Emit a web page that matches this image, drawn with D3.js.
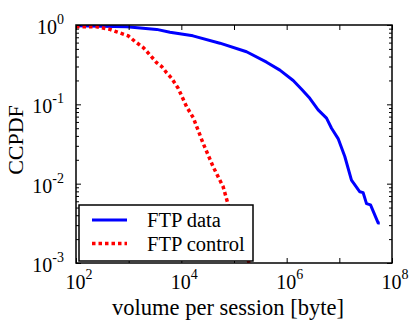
<!DOCTYPE html>
<html>
<head>
<meta charset="utf-8">
<script src="https://cdn.jsdelivr.net/npm/d3@7"></script>
<style>
  html, body { margin: 0; padding: 0; background: #fff; }
  svg { display: block; font-family: "Liberation Serif", "Times New Roman", serif; }
</style>
</head>
<body>
<svg id="chart" width="411" height="320"></svg>
<script>
// FTP data sessions: volume [byte] vs CCPDF
const dataVolume = [100, 916, 3400, 6080, 16600, 54000, 173000, 416000, 743000, 1330000,
  1920000, 2750000, 3960000, 5710000, 7110000, 9480000, 12700000, 17000000, 24500000,
  28300000, 32800000, 39100000, 54500000, 58600000];
const dataCcpdf = [0.98, 0.95, 0.88, 0.81, 0.73, 0.59, 0.46, 0.34, 0.27, 0.20,
  0.155, 0.119, 0.085, 0.067, 0.050, 0.037, 0.022, 0.0111, 0.0079, 0.0077,
  0.0056, 0.0054, 0.0032, 0.0032];

// FTP control sessions
const controlVolume = [100, 247, 442, 592, 982, 1318, 1892, 2535, 3396, 4227, 5260, 6546,
  8730, 12620, 16830, 26060, 40270, 62370, 77620, 185800, 213800];
const controlCcpdf = [0.95, 0.95, 0.88, 0.82, 0.73, 0.62, 0.52, 0.42, 0.335, 0.30, 0.25, 0.213,
  0.159, 0.093, 0.068, 0.032, 0.0163, 0.0091, 0.0054, 0.00109, 0.0008];

const xTickValues = [1e2, 1e3, 1e4, 1e5, 1e6, 1e7, 1e8];
const xLabelExponents = [2, 4, 6, 8];
const yTickExponents = [0, -1, -2, -3];
const seriesNames = ["FTP data", "FTP control"];

const svg = d3.select("#chart");
const m = { left: 76, right: 392, top: 25, bottom: 263 };

const x = d3.scaleLog().domain([1e2, 1e8]).range([m.left, m.right]);
const y = d3.scaleLog().domain([1e-3, 1e0]).range([m.bottom, m.top]);

svg.append("defs").append("clipPath").attr("id", "plotClip")
  .append("rect").attr("x", m.left).attr("y", m.top)
  .attr("width", m.right - m.left).attr("height", m.bottom - m.top);

const line = d3.line().x(d => x(d[0])).y(d => y(d[1]));
const dataPts = dataVolume.map((v, i) => [v, dataCcpdf[i]]);
const ctrlPts = controlVolume.map((v, i) => [v, controlCcpdf[i]]);

const plot = svg.append("g").attr("clip-path", "url(#plotClip)");
plot.append("path").datum(dataPts).attr("d", line)
  .attr("fill", "none").attr("stroke", "#0000ff").attr("stroke-width", 3)
  .attr("stroke-linejoin", "round");
plot.append("path").datum(ctrlPts).attr("d", line)
  .attr("fill", "none").attr("stroke", "#ff0000").attr("stroke-width", 3.5)
  .attr("stroke-dasharray", "3.5,3");

// Axes: ticks point inward and are mirrored on top/right
const yMinor = [];
for (let e = -3; e < 0; e++) for (let k = 1; k <= 9; k++) yMinor.push(k * Math.pow(10, e));
yMinor.push(1);
const isDecade = d => Math.abs(Math.log10(d) - Math.round(Math.log10(d))) < 1e-9;

const axisStyle = g => {
  g.select(".domain").remove();
  g.selectAll(".tick line").attr("stroke", "#000").attr("stroke-width", 1);
  g.selectAll(".tick text").remove();
};

svg.append("g").attr("transform", `translate(0,${m.bottom})`)
  .call(d3.axisTop(x).tickValues(xTickValues).tickSize(5).tickFormat(""))
  .call(axisStyle);
svg.append("g").attr("transform", `translate(0,${m.top})`)
  .call(d3.axisBottom(x).tickValues(xTickValues).tickSize(5).tickFormat(""))
  .call(axisStyle);
svg.append("g").attr("transform", `translate(${m.left},0)`)
  .call(d3.axisRight(y).tickValues(yMinor).tickSize(3).tickFormat(""))
  .call(axisStyle)
  .selectAll(".tick line").attr("x2", d => isDecade(d) ? 5 : 3);
svg.append("g").attr("transform", `translate(${m.right},0)`)
  .call(d3.axisLeft(y).tickValues(yMinor).tickSize(3).tickFormat(""))
  .call(axisStyle)
  .selectAll(".tick line").attr("x2", d => isDecade(d) ? -5 : -3);

svg.append("rect").attr("x", m.left).attr("y", m.top)
  .attr("width", m.right - m.left).attr("height", m.bottom - m.top)
  .attr("fill", "none").attr("stroke", "#000").attr("stroke-width", 1.5);

// Tick labels as 10 with superscript exponent
const tickFont = 20, supFont = 14;
xLabelExponents.forEach(e => {
  const t = svg.append("text").attr("x", x(Math.pow(10, e)) + 3).attr("y", 289)
    .attr("text-anchor", "middle").attr("font-size", tickFont);
  t.append("tspan").text("10");
  t.append("tspan").attr("font-size", supFont).attr("dy", -10).text(e);
});
yTickExponents.forEach(e => {
  const t = svg.append("text").attr("x", 64).attr("y", y(Math.pow(10, e)) + 9)
    .attr("text-anchor", "end").attr("font-size", tickFont);
  t.append("tspan").text("10");
  t.append("tspan").attr("font-size", supFont).attr("dy", -10).text(e);
});

svg.append("text").attr("x", 228).attr("y", 315)
  .attr("text-anchor", "middle").attr("font-size", 22.5).text("volume per session [byte]");
svg.append("text").attr("transform", `translate(23,${(m.top + m.bottom) / 2 - 4}) rotate(-90)`)
  .attr("text-anchor", "middle").attr("font-size", 22).text("CCPDF");

// Legend
const lg = svg.append("g");
lg.append("rect").attr("x", 79).attr("y", 205).attr("width", 174).attr("height", 56)
  .attr("fill", "#fff").attr("stroke", "#000").attr("stroke-width", 1.5);
const legendStyles = [
  { stroke: "#0000ff", width: 3, dash: null },
  { stroke: "#ff0000", width: 3.5, dash: "3.5,3" }
];
seriesNames.forEach((name, i) => {
  const yy = 220 + i * 23.5;
  lg.append("line").attr("x1", 92).attr("x2", 127).attr("y1", yy).attr("y2", yy)
    .attr("stroke", legendStyles[i].stroke).attr("stroke-width", legendStyles[i].width)
    .attr("stroke-dasharray", legendStyles[i].dash);
  lg.append("text").attr("x", 147).attr("y", yy + 7).attr("font-size", 20.5).text(name);
});
</script>
</body>
</html>
